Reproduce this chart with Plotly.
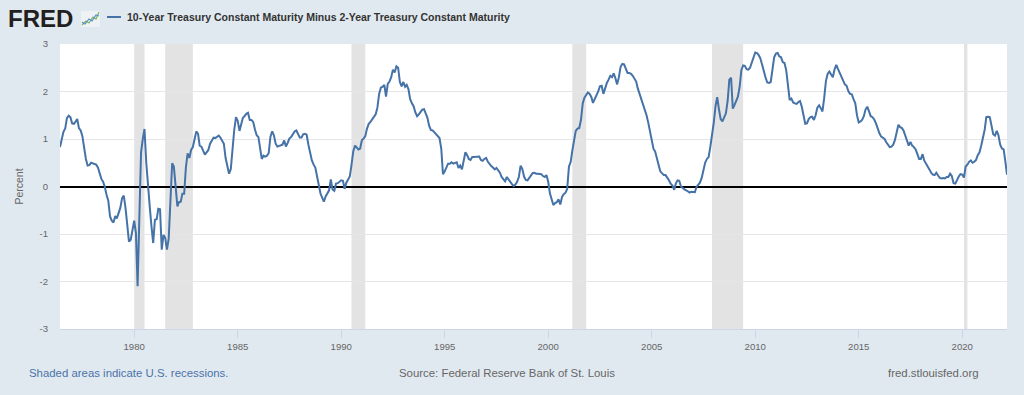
import pandas as pd
import plotly.graph_objects as go

# ---- Data: monthly 10Y-2Y spread (percent) ----
start_month = "1976-06-01"
y1976 = [0.83, 1.00, 1.15, 1.22, 1.44, 1.49, 1.46]
y1977 = [1.33, 1.32, 1.36, 1.42, 1.23, 1.18, 1.06, 0.80, 0.58, 0.44, 0.45, 0.50]
y1978 = [0.49, 0.48, 0.46, 0.40, 0.27, 0.16, 0.10, -0.01, -0.18, -0.30, -0.63, -0.72]
y1979 = [-0.76, -0.62, -0.67, -0.56, -0.45, -0.25, -0.19, -0.45, -0.80, -1.16, -1.12, -0.88]
y1980 = [-0.72, -0.98, -2.10, -0.65, 0.72, 1.00, 1.21, 0.50, -0.05, -0.42, -0.84, -1.19]
y1981 = [-0.70, -0.69, -0.47, -0.48, -1.33, -1.02, -1.08, -1.33, -1.10, -0.35, 0.49, 0.42]
y1982 = [-0.02, -0.42, -0.33, -0.32, -0.15, -0.15, 0.40, 0.70, 0.60, 0.77, 0.83, 0.98]
y1983 = [1.16, 1.11, 0.86, 0.84, 0.75, 0.67, 0.72, 0.77, 0.90, 0.98, 1.03, 1.02]
y1984 = [1.04, 1.07, 1.03, 0.95, 0.90, 0.60, 0.40, 0.27, 0.37, 0.80, 1.20, 1.46]
y1985 = [1.38, 1.17, 1.30, 1.44, 1.48, 1.53, 1.55, 1.40, 1.40, 1.36, 1.20, 1.08]
y1986 = [1.04, 0.80, 0.58, 0.65, 0.63, 0.65, 0.70, 1.05, 1.16, 1.08, 0.90, 0.84]
y1987 = [0.85, 0.86, 0.88, 0.97, 0.84, 0.92, 1.01, 1.04, 1.09, 1.16, 1.18, 1.12]
y1988 = [1.03, 1.03, 1.10, 1.11, 1.09, 0.88, 0.68, 0.55, 0.46, 0.40, 0.21, 0.00]
y1989 = [-0.15, -0.24, -0.32, -0.21, -0.13, -0.08, 0.15, -0.06, -0.09, 0.06, 0.07, 0.11]
y1990 = [0.13, 0.12, -0.05, 0.08, 0.14, 0.21, 0.45, 0.74, 0.86, 0.83, 0.78, 0.80]
y1991 = [0.98, 1.01, 1.06, 1.22, 1.32, 1.36, 1.42, 1.48, 1.52, 1.66, 1.95, 2.08]
y1992 = [2.10, 2.14, 1.89, 2.16, 2.21, 2.30, 2.46, 2.40, 2.53, 2.50, 2.20, 2.11]
y1993 = [2.20, 2.10, 2.14, 2.05, 1.84, 1.75, 1.69, 1.56, 1.48, 1.52, 1.57, 1.62]
y1994 = [1.63, 1.52, 1.45, 1.28, 1.19, 1.18, 1.14, 1.09, 1.05, 1.02, 0.80, 0.26]
y1995 = [0.32, 0.41, 0.48, 0.48, 0.51, 0.48, 0.50, 0.51, 0.39, 0.44, 0.36, 0.53]
y1996 = [0.72, 0.66, 0.58, 0.56, 0.62, 0.62, 0.62, 0.62, 0.63, 0.56, 0.54, 0.58]
y1997 = [0.60, 0.52, 0.47, 0.43, 0.40, 0.36, 0.39, 0.34, 0.29, 0.20, 0.15, 0.11]
y1998 = [0.20, 0.14, 0.08, 0.05, 0.01, 0.04, 0.10, 0.20, 0.44, 0.37, 0.21, 0.14]
y1999 = [0.13, 0.18, 0.24, 0.28, 0.29, 0.27, 0.27, 0.27, 0.26, 0.22, 0.20, 0.24]
y2000 = [0.10, -0.15, -0.30, -0.39, -0.35, -0.33, -0.27, -0.38, -0.22, -0.16, -0.13, -0.05]
y2001 = [0.42, 0.52, 0.75, 1.02, 1.17, 1.22, 1.23, 1.40, 1.75, 1.87, 1.94, 1.98]
y2002 = [1.95, 1.88, 1.76, 1.84, 1.91, 2.00, 2.11, 2.12, 1.95, 2.08, 2.18, 2.25]
y2003 = [2.33, 2.30, 2.38, 2.28, 2.15, 2.30, 2.52, 2.58, 2.57, 2.48, 2.39, 2.39]
y2004 = [2.37, 2.33, 2.27, 2.21, 2.06, 1.95, 1.84, 1.74, 1.60, 1.50, 1.34, 1.18]
y2005 = [1.00, 0.79, 0.74, 0.62, 0.46, 0.32, 0.28, 0.24, 0.24, 0.19, 0.13, 0.06]
y2006 = [0.02, -0.07, 0.06, 0.13, 0.12, 0.00, -0.04, -0.06, -0.08, -0.10, -0.13, -0.11]
y2007 = [-0.12, -0.12, -0.01, 0.04, 0.08, 0.18, 0.34, 0.50, 0.58, 0.62, 0.84, 1.08]
y2008 = [1.35, 1.70, 1.88, 1.62, 1.42, 1.37, 1.45, 1.54, 1.80, 2.25, 2.29, 1.64]
y2009 = [1.72, 1.82, 1.89, 2.10, 2.45, 2.55, 2.54, 2.47, 2.46, 2.50, 2.60, 2.72]
y2010 = [2.82, 2.81, 2.77, 2.70, 2.55, 2.44, 2.30, 2.19, 2.18, 2.20, 2.45, 2.72]
y2011 = [2.80, 2.81, 2.74, 2.72, 2.62, 2.60, 2.45, 2.05, 1.82, 1.85, 1.77, 1.75]
y2012 = [1.74, 1.78, 1.80, 1.68, 1.48, 1.32, 1.33, 1.42, 1.46, 1.47, 1.40, 1.50]
y2013 = [1.66, 1.71, 1.65, 1.58, 1.86, 2.22, 2.37, 2.42, 2.36, 2.30, 2.47, 2.56]
y2014 = [2.47, 2.39, 2.33, 2.26, 2.15, 2.12, 2.01, 1.95, 1.94, 1.84, 1.75, 1.50]
y2015 = [1.35, 1.37, 1.40, 1.48, 1.62, 1.68, 1.60, 1.48, 1.46, 1.41, 1.33, 1.22]
y2016 = [1.12, 1.05, 1.02, 1.00, 0.93, 0.87, 0.83, 0.84, 0.88, 0.98, 1.18, 1.30]
y2017 = [1.25, 1.23, 1.18, 1.08, 1.00, 0.86, 0.94, 0.86, 0.83, 0.78, 0.68, 0.58]
y2018 = [0.58, 0.68, 0.55, 0.49, 0.45, 0.36, 0.29, 0.25, 0.24, 0.29, 0.23, 0.18]
y2019 = [0.17, 0.18, 0.17, 0.20, 0.20, 0.27, 0.22, 0.07, 0.06, 0.14, 0.21, 0.26]
y2020 = [0.25, 0.19, 0.42, 0.46, 0.52, 0.55, 0.50, 0.52, 0.56, 0.66, 0.72, 0.86]
y2021 = [1.00, 1.20, 1.46, 1.47, 1.46, 1.30, 1.10, 1.07, 1.17, 1.08, 0.88, 0.80]
y2022 = [0.78, 0.52, 0.25]

# US recessions (shaded)
rec_start = ["1980-01-01", "1981-07-01", "1990-07-01", "2001-03-01", "2007-12-01", "2020-02-01"]
rec_end = ["1980-07-01", "1982-11-01", "1991-03-01", "2001-11-01", "2009-06-01", "2020-04-01"]

tick_years = [1980, 1985, 1990, 1995, 2000, 2005, 2010, 2015, 2020]
y_ticks = [-3, -2, -1, 0, 1, 2, 3]

series_name = "10-Year Treasury Constant Maturity Minus 2-Year Treasury Constant Maturity"

# ---- Assemble ----
years = [y1976, y1977, y1978, y1979, y1980, y1981, y1982, y1983, y1984, y1985,
         y1986, y1987, y1988, y1989, y1990, y1991, y1992, y1993, y1994, y1995,
         y1996, y1997, y1998, y1999, y2000, y2001, y2002, y2003, y2004, y2005,
         y2006, y2007, y2008, y2009, y2010, y2011, y2012, y2013, y2014, y2015,
         y2016, y2017, y2018, y2019, y2020, y2021, y2022]
values = [v for yr in years for v in yr]
dates = pd.date_range(start_month, periods=len(values), freq="MS")

LINE = "#4572a7"
BG = "#e1e9f0"
FONT = "Liberation Sans, Arial, sans-serif"

# layout geometry (pixels) for decorative header/footer placement
W, H = 1024, 395
ML, MR, MT, MB = 60, 17, 44, 66
PW, PH = W - ML - MR, H - MT - MB


def px(x):
    return (x - ML) / PW


def py(y):
    return (H - MB - y) / PH


fig = go.Figure()
fig.add_trace(go.Scatter(x=dates, y=values, mode="lines", name=series_name,
                         line=dict(color=LINE, width=2), showlegend=False,
                         hoverinfo="x+y"))

for s, e in zip(rec_start, rec_end):
    fig.add_vrect(x0=s, x1=e, fillcolor="#e3e3e3", opacity=1, line_width=0, layer="below")

fig.update_layout(
    width=W, height=H,
    margin=dict(l=ML, r=MR, t=MT, b=MB),
    paper_bgcolor=BG, plot_bgcolor="#ffffff",
    font=dict(family=FONT, color="#666666"),
    xaxis=dict(
        type="date",
        range=[dates[0], dates[-1]],
        tickvals=[pd.Timestamp(f"{y}-01-01") for y in tick_years],
        ticktext=[str(y) for y in tick_years],
        ticks="outside", ticklen=8, tickcolor="#ccd6eb", tickwidth=1,
        showline=True, linecolor="#ccd6eb", linewidth=1,
        showgrid=False, zeroline=False,
        tickfont=dict(size=9.6, color="#666666", family=FONT),
    ),
    yaxis=dict(
        range=[-3, 3], tickvals=y_ticks, ticktext=[str(v) for v in y_ticks],
        showgrid=True, gridcolor="#e6e6e6", gridwidth=1,
        zeroline=True, zerolinecolor="#000000", zerolinewidth=2,
        ticks="", ticklabelstandoff=11,
        tickfont=dict(size=9.6, color="#666666", family=FONT),
        title=dict(text="Percent", font=dict(size=10.5, color="#666666", family=FONT), standoff=13),
        showline=False,
    ),
)

# ---- Header: FRED logo + legend ----
fig.add_annotation(x=px(6), y=py(18.5), xref="paper", yref="paper", xanchor="left", yanchor="middle",
                   text="<b>FRED</b>", showarrow=False,
                   font=dict(family="Liberation Sans, Arial, sans-serif", size=24, color="#231f20"))
# small chart icon next to the logo
fig.add_shape(type="rect", xref="paper", yref="paper", x0=px(81), x1=px(100), y0=py(27), y1=py(11),
              fillcolor="#eef2f5", line=dict(width=0))
fig.add_shape(type="path", xref="paper", yref="paper",
              path=f"M {px(82)},{py(25)} L {px(86)},{py(21)} L {px(89)},{py(23)} L {px(93)},{py(17)} L {px(96)},{py(19)} L {px(99)},{py(12)}",
              line=dict(color="#7bb661", width=1.2))
fig.add_shape(type="path", xref="paper", yref="paper",
              path=f"M {px(82)},{py(22)} L {px(85)},{py(24)} L {px(89)},{py(19)} L {px(92)},{py(21)} L {px(96)},{py(15)} L {px(99)},{py(16)}",
              line=dict(color="#5b8fc7", width=1.2))
# legend swatch + text
fig.add_shape(type="line", xref="paper", yref="paper", x0=px(107), x1=px(121), y0=py(17), y1=py(17),
              line=dict(color=LINE, width=2))
fig.add_annotation(x=px(125), y=py(17), xref="paper", yref="paper", xanchor="left", yanchor="middle",
                   text=f"<b>{series_name}</b>", showarrow=False,
                   font=dict(family=FONT, size=10.5, color="#333333"))

# ---- Footer ----
fig.add_annotation(x=px(27), y=py(373), xref="paper", yref="paper", xanchor="left", yanchor="middle",
                   text="Shaded areas indicate U.S. recessions.", showarrow=False,
                   font=dict(family=FONT, size=11.4, color="#4a72a8"))
fig.add_annotation(x=px(507), y=py(373), xref="paper", yref="paper", xanchor="center", yanchor="middle",
                   text="Source: Federal Reserve Bank of St. Louis", showarrow=False,
                   font=dict(family=FONT, size=11.4, color="#666666"))
fig.add_annotation(x=px(981), y=py(373), xref="paper", yref="paper", xanchor="right", yanchor="middle",
                   text="fred.stlouisfed.org", showarrow=False,
                   font=dict(family=FONT, size=11.4, color="#666666"))

fig.write_html("out.html", config={"displayModeBar": False},
               post_script="document.body.style.margin='0px';document.body.style.padding='0px';document.body.style.background='" + BG + "';")
